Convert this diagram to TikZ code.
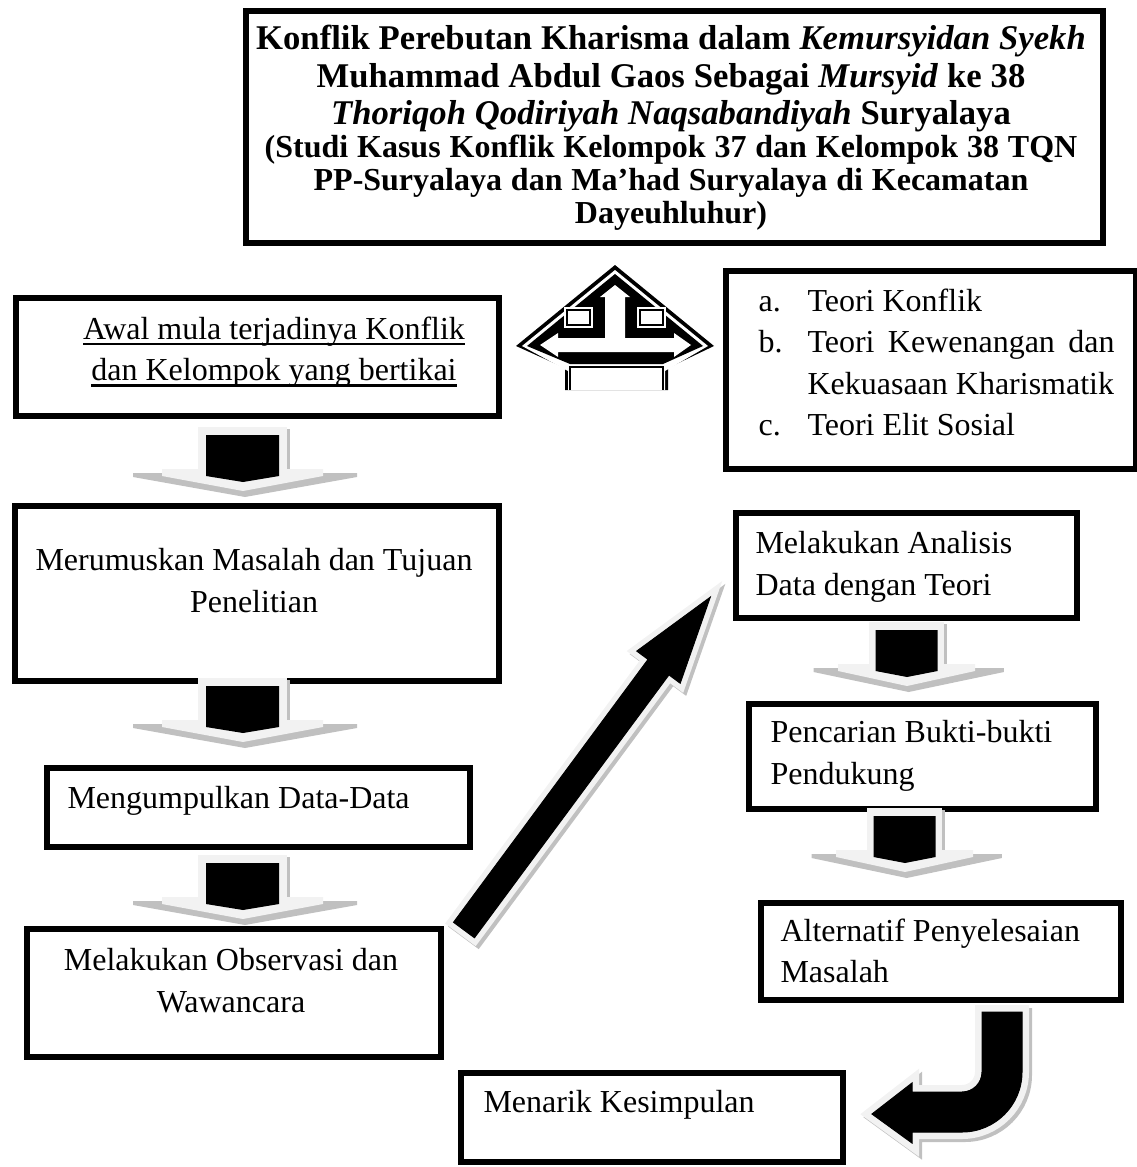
\documentclass[tikz,border=0pt]{standalone}
\usepackage{fontspec}
\setmainfont{Liberation Serif}
\usetikzlibrary{calc,positioning}
\newlength\pxl
\setlength\pxl{0.375pt}
\newcommand{\ulinetext}[1]{\setbox0\hbox{#1}\rlap{\rule[-2.2pt]{\wd0}{0.8pt}}\box0}
\definecolor{rimgray}{RGB}{242,242,242}
\definecolor{shadowgray}{RGB}{192,192,192}
\tikzset{
  downblk/.pic={
    \fill[shadowgray] (-110,46) -- (114,46) -- (114,50) -- (2,70) -- (-110,50) -- cycle;
    \fill[shadowgray] (44,2) rectangle (47,44);
    \fill[rimgray] (-45,0) rectangle (44,44);
    \fill[rimgray] (-81,42) -- (80,42) -- (80,49) -- (0,64) -- (-81,49) -- cycle;
    \fill[black] (-37,8) -- (36,8) -- (36,49) -- (0,55) -- (-37,49) -- cycle;
  }
}
\begin{document}
\begin{tikzpicture}[x=0.375pt,y=-0.375pt,align=center]
\tikzstyle{box}=[draw=black,line width=6\pxl,inner sep=0pt,anchor=north west]
\tikzstyle{txt}=[inner sep=0pt,font=\fontsize{12}{15.6}\selectfont]
\tikzstyle{lefttxt}=[txt,align=left,anchor=north west]

\useasboundingbox (0,0) rectangle (1136,1167);

\node[inner sep=0pt,font=\bfseries,text width=850\pxl,anchor=north] (titletext) at (671,25) {%
  {\fontsize{13}{13.9}\selectfont Konflik Perebutan Kharisma dalam \textit{Kemursyidan Syekh}\\
  Muhammad Abdul Gaos Sebagai \textit{Mursyid} ke 38\\
  \textit{Thoriqoh Qodiriyah Naqsabandiyah} Suryalaya\par}
  {\fontsize{12}{12.4}\selectfont (Studi Kasus Konflik Kelompok 37 dan Kelompok 38 TQN\\
  PP-Suryalaya dan Ma’had Suryalaya di Kecamatan\\
  Dayeuhluhur)\par}};
\node[box,minimum width=857\pxl,minimum height=232\pxl] (titlebox) at (243,8) {};

\node[box,minimum width=483\pxl,minimum height=118\pxl] (awal) at (13,295) {};
\node[txt,anchor=north] (awaltext) at (274,316) {\ulinetext{Awal mula terjadinya Konflik}\\\ulinetext{dan Kelompok yang bertikai}};

\node[box,minimum width=484\pxl,minimum height=175\pxl] (rumus) at (12,503) {};
\node[txt,anchor=north] (rumustext) at (254,548) {Merumuskan Masalah dan Tujuan\\Penelitian};

\node[box,minimum width=423\pxl,minimum height=79\pxl] (kumpul) at (44,765) {};
\node[lefttxt] (kumpultext) at (67,786) {Mengumpulkan Data-Data};

\node[box,minimum width=414\pxl,minimum height=128\pxl] (observasi) at (24,926) {};
\node[txt,anchor=north] (observasitext) at (231,948) {Melakukan Observasi dan\\Wawancara};

\node[box,minimum width=410\pxl,minimum height=198\pxl] (teori) at (723,268) {};
\node[txt,text width=356\pxl,align=justify,anchor=north west] (teoritext) at (758,288) {%
  \noindent\makebox[49\pxl][l]{a.}Teori Konflik\par
  \hangindent=49\pxl\hangafter=1\noindent\makebox[49\pxl][l]{b.}Teori Kewenangan dan Kekuasaan Kharismatik\par
  \noindent\makebox[49\pxl][l]{c.}Teori Elit Sosial\par};

\node[box,minimum width=341\pxl,minimum height=105\pxl] (analisis) at (733,510) {};
\node[lefttxt] (analisistext) at (755,531) {Melakukan Analisis\\Data dengan Teori};

\node[box,minimum width=347\pxl,minimum height=105\pxl] (bukti) at (746,701) {};
\node[lefttxt] (buktitext) at (770,720) {Pencarian Bukti-bukti\\Pendukung};

\node[box,minimum width=360\pxl,minimum height=97\pxl] (alternatif) at (758,900) {};
\node[lefttxt] (alternatiftext) at (780,918) {Alternatif Penyelesaian\\Masalah};

\node[box,minimum width=382\pxl,minimum height=89\pxl] (simpulan) at (458,1070) {};
\node[lefttxt] (simpulantext) at (483,1090) {Menarik Kesimpulan};

\pic at (243,427) {downblk};
\pic at (243,678) {downblk};
\pic at (243,855) {downblk};
\pic[xscale=0.85] at (907,622) {downblk};
\pic[xscale=0.85] at (905,808) {downblk};

\fill[black] (565,390) -- (565,368) -- (516,346) -- (615,265) -- (714,346) -- (668,368) -- (668,390) -- cycle;
\fill[white] (568,390) -- (568,371) -- (522,346) -- (615,270) -- (708,346) -- (665,371) -- (665,390) -- cycle;
\fill[black] (527,346) -- (615,274) -- (703,346) -- (663,364) -- (570,364) -- cycle;
\draw[line width=2\pxl] (570,390) -- (570,367) -- (663,367) -- (663,390);
\fill[white] (615,285) -- (630,297) -- (625,297) -- (625,338) -- (674,338) -- (674,333) -- (691,345) -- (674,357) -- (674,352)
  -- (558,352) -- (558,357) -- (540,345) -- (558,333) -- (558,338) -- (605,338) -- (605,297) -- (600,297) -- cycle;
\fill[white] (564,307) rectangle (593,328);
\draw[line width=2\pxl] (567,310) rectangle (590,325);
\fill[white] (637,307) rectangle (666,328);
\draw[line width=2\pxl] (640,310) rectangle (663,325);

\coordinate (diagtail) at (464,930);
\foreach \off/\col/\wd in {3/shadowgray/12,0/rimgray/12,0/black/1} {
  \filldraw[fill=\col,draw=\col,line width=\wd\pxl,shift={($(diagtail)+(\off,\off)$)},rotate=53.5]
    (0,-13) -- (327,-13) -- (327,-27) -- (414,0) -- (327,27) -- (327,13) -- (0,13) -- cycle;
}

\foreach \off/\col/\wd in {3/shadowgray/14,0/rimgray/14,0/black/1} {
  \filldraw[fill=\col,draw=\col,line width=\wd\pxl,shift={(\off,\off)}]
    (1022,1012) -- (982,1012) -- (982,1072) arc[start angle=0,end angle=90,radius=20] -- (912,1092) -- (912,1083)
    -- (872,1114) -- (912,1143) -- (912,1132) -- (962,1132) arc[start angle=90,end angle=0,radius=60] -- cycle;
}
\end{tikzpicture}
\end{document}
